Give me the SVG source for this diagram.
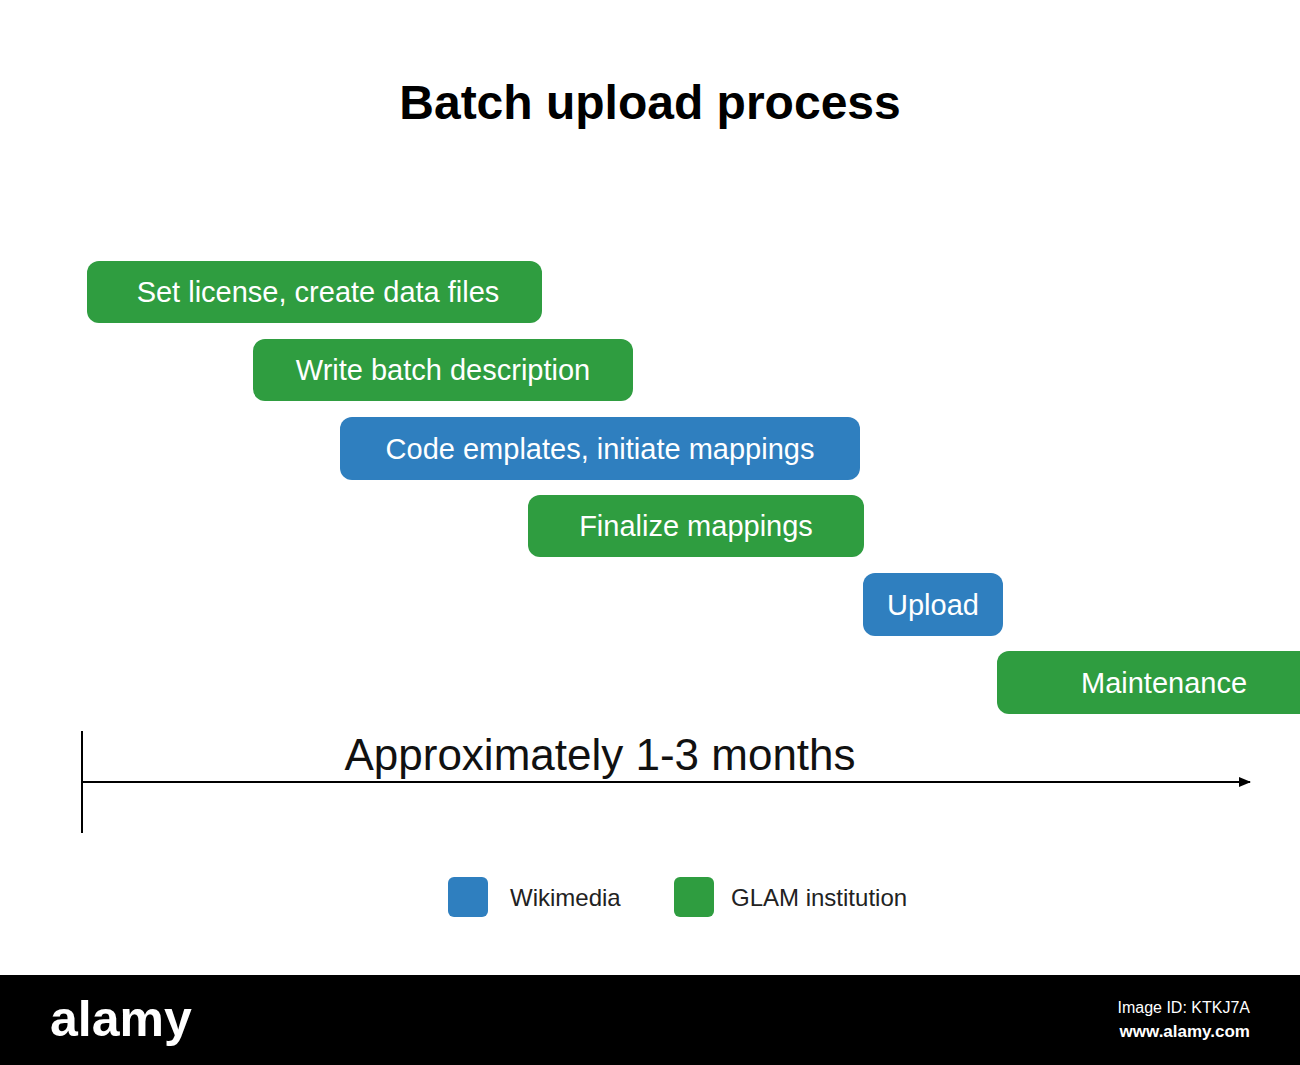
<svg xmlns="http://www.w3.org/2000/svg" width="1300" height="1065" viewBox="0 0 1300 1065">
<style>
.g{fill:#2f9d40}.b{fill:#2f7fbf}
.t{font-family:"Liberation Sans",Arial,sans-serif;fill:#fff;font-size:29px;text-anchor:middle}
.l{font-family:"Liberation Sans",Arial,sans-serif;fill:#222;font-size:24px}
</style>
<defs><marker id="a" markerWidth="12" markerHeight="10" refX="11" refY="5" orient="auto" markerUnits="userSpaceOnUse"><path d="M0,0 L12,5 L0,10 z" fill="#000"/></marker></defs>
<rect width="1300" height="1065" fill="#fff"/>
<text x="650" y="119" font-family="Liberation Sans,Arial,sans-serif" font-weight="bold" font-size="48" text-anchor="middle">Batch upload process</text>
<g id="n1"><rect class="g" x="87" y="261" width="455" height="62" rx="12"/><text class="t" x="318" y="302">Set license, create data files</text></g>
<g id="n2"><rect class="g" x="253" y="339" width="380" height="62" rx="12"/><text class="t" x="443" y="380">Write batch description</text></g>
<g id="n3"><rect class="b" x="340" y="417" width="520" height="63" rx="12"/><text class="t" x="600" y="459">Code emplates, initiate mappings</text></g>
<g id="n4"><rect class="g" x="528" y="495" width="336" height="62" rx="12"/><text class="t" x="696" y="536">Finalize mappings</text></g>
<g id="n5"><rect class="b" x="863" y="573" width="140" height="63" rx="12"/><text class="t" x="933" y="615">Upload</text></g>
<g id="n6"><rect class="g" x="997" y="651" width="320" height="63" rx="12"/><text class="t" x="1164" y="693">Maintenance</text></g>
<g id="connectors" stroke="#000" stroke-width="2">
<line x1="82" y1="731" x2="82" y2="833"/>
<line x1="82" y1="782" x2="1250" y2="782" marker-end="url(#a)"/>
</g>
<text x="600" y="770" font-family="Liberation Sans,Arial,sans-serif" font-size="44" text-anchor="middle" fill="#111">Approximately 1-3 months</text>
<g id="legend">
<rect class="b" x="448" y="877" width="40" height="40" rx="6"/><text class="l" x="510" y="906">Wikimedia</text>
<rect class="g" x="674" y="877" width="40" height="40" rx="6"/><text class="l" x="731" y="906">GLAM institution</text>
</g>
<rect x="0" y="975" width="1300" height="90" fill="#000"/>
<text x="50" y="1036" font-family="Liberation Sans,Arial,sans-serif" font-weight="bold" font-size="50" fill="#fff">alamy</text>
<text x="1250" y="1013" font-family="Liberation Sans,Arial,sans-serif" font-size="16" fill="#fff" text-anchor="end">Image ID: KTKJ7A</text>
<text x="1250" y="1037" font-family="Liberation Sans,Arial,sans-serif" font-weight="bold" font-size="17" fill="#fff" text-anchor="end">www.alamy.com</text>
</svg>
